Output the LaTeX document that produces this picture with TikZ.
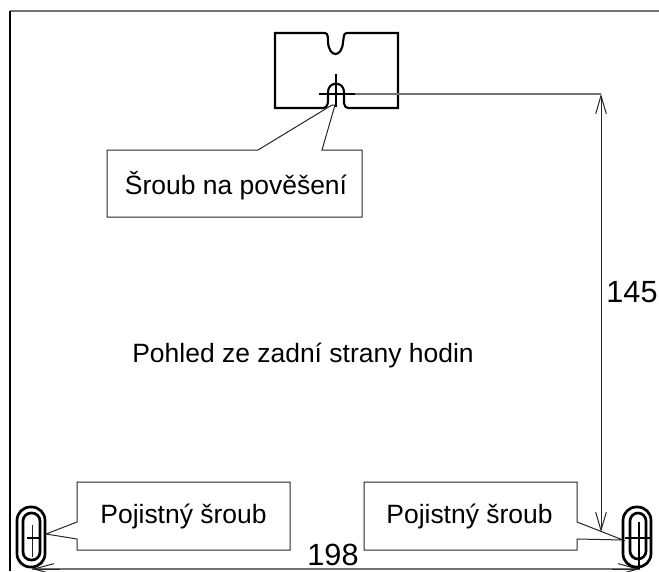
\documentclass[tikz,border=0pt]{standalone}
\usepackage{fontspec}
\setmainfont{Liberation Sans}
\usetikzlibrary{arrows.meta}
\tikzset{
  thinline/.style={line width=0.75pt, black!85},
  greyline/.style={line width=1.1pt, black!55},
  partline/.style={line width=1.6pt, black},
  slotline/.style={line width=2pt, black, rounded corners=10pt},
  caption/.style={inner sep=0pt, font=\fontsize{19.85pt}{23pt}\selectfont},
  dimtext/.style={inner sep=0pt, font=\fontsize{23pt}{26pt}\selectfont}
}
\begin{document}
\begin{tikzpicture}[x=0.75pt, y=-0.75pt]
\useasboundingbox (0,0) rectangle (659,571);
\coordinate (framecorner) at (10,11);
\coordinate (frameright) at (659,11);
\coordinate (framebottom) at (10,571);
\coordinate (hangcentre) at (336,94);
\coordinate (dimcorner) at (601,94);
\coordinate (dimend) at (601,532);
\coordinate (widthleft) at (32,569);
\coordinate (widthright) at (640,569);
\draw [greyline] (framecorner) -- (frameright);
\draw [line width=1pt] (framecorner) -- (framebottom);
\draw [partline] (325,33) -- (275,33) -- (275,108) -- (323,108) .. controls (327,108) and (328,104) .. (328,100) -- (328,92) .. controls (328,81) and (344,81) .. (344,92) -- (344,103) .. controls (344,106) and (346,108) .. (348,108) -- (398,108) -- (398,33) -- (347,33) .. controls (343,33) and (344,38) .. (343,42) .. controls (342,58) and (329,58) .. (328,42) .. controls (328,38) and (328,33) .. (325,33);
\draw [partline] (336,74) -- (336,107);
\draw [partline] (319,94) -- (355,94);
\draw [greyline] (355,94) -- (hangcentre -| dimcorner);
\draw [thinline, {Straight Barb[length=13.5pt, width=8pt]}-{Straight Barb[length=13.5pt, width=8pt]}] (dimcorner) -- (dimend);
\draw [greyline] (widthleft) -- (widthright);
\draw [thinline, -{Straight Barb[length=15pt, width=8pt]}] (60,569) -- (widthleft);
\draw [thinline, -{Straight Barb[length=15pt, width=8pt]}] (612,569) -- (widthright);
\draw [thinline] (258,150) -- (107,150) -- (107,217) -- (362,217) -- (362,150) -- (322,150) -- (335,105) -- (332,105) -- cycle;
\draw [thinline] (77,522) -- (77,482) -- (290,482) -- (290,550) -- (77,550) -- (77,539) -- (46,534) -- cycle;
\draw [thinline] (577,522) -- (577,482) -- (364,482) -- (364,550) -- (577,550) -- (577,539) -- (623,540) -- cycle;
\draw [slotline] (17,507) rectangle (45,567);
\draw [slotline, rounded corners=6pt] (23,513) rectangle (40,560);
\draw [thinline] (32,525) -- (32,557);
\draw [partline, line width=1pt] (27,538) -- (39,538);
\draw [slotline] (623,507) rectangle (651,567);
\draw [slotline, rounded corners=6pt] (630,513) rectangle (646,559);
\draw [partline] (639,522) -- (639,569);
\draw [partline] (625,538) -- (650,538);
\node [caption] (hangtext) at (236,186) {Šroub na pověšení};
\node [caption] (viewtext) at (303,355) {Pohled ze zadní strany hodin};
\node [caption] (lefttext) at (183.5,516) {Pojistný šroub};
\node [caption] (righttext) at (469.5,516) {Pojistný šroub};
\node [dimtext] (heighttext) at (632,292) {145};
\node [dimtext] (widthtext) at (333,555) {198};
\end{tikzpicture}
\end{document}
